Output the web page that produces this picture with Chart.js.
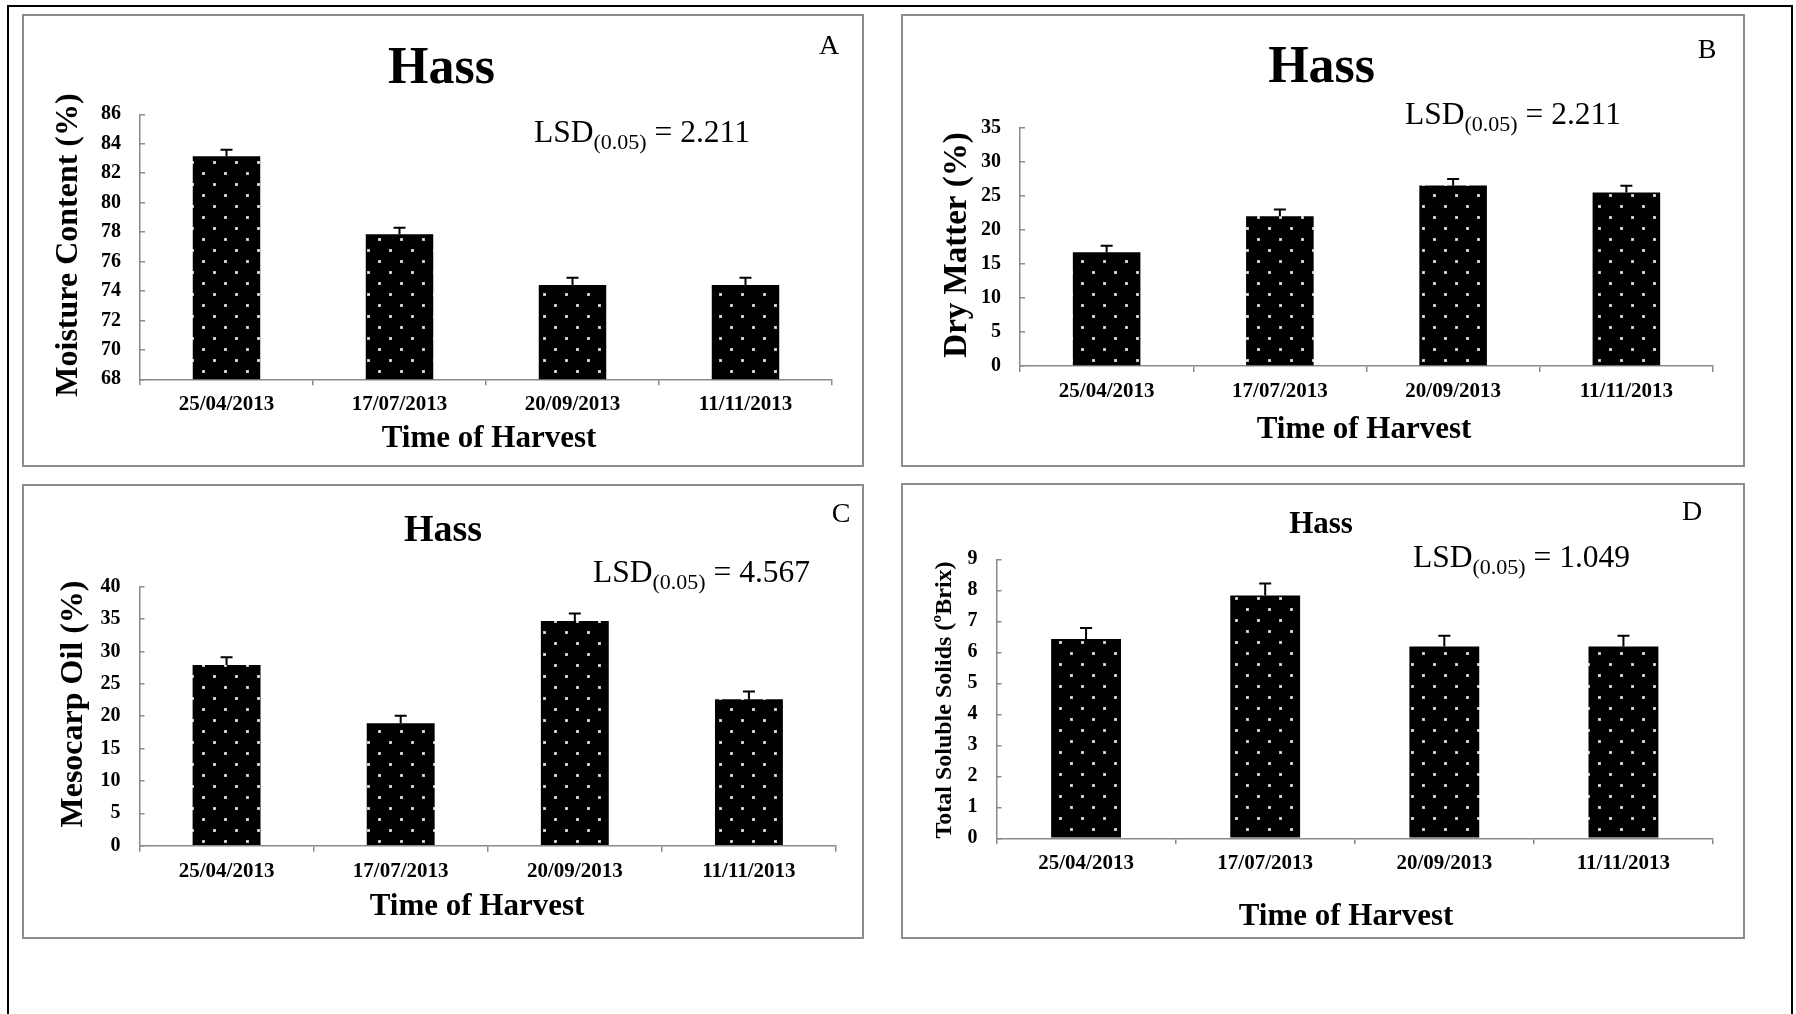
<!DOCTYPE html>
<html>
<head>
<meta charset="utf-8">
<title>Hass - time of harvest</title>
<script src="https://cdn.jsdelivr.net/npm/chart.js@4.4.1/dist/chart.umd.min.js"></script>
<style>
  html, body { margin: 0; padding: 0; background: #fff; }
  body { width: 1796px; height: 1014px; position: relative; overflow: hidden; }
  #outer { position: absolute; left: 7px; top: 5px; width: 1786px; height: 1100px; border: 2.5px solid #000; box-sizing: border-box; }
  canvas.panel { position: absolute; }
</style>
</head>
<body>
<div id="outer"></div>
<canvas id="chartA" class="panel" width="842" height="453" style="left:22px;top:14px"></canvas>
<canvas id="chartB" class="panel" width="844" height="453" style="left:901px;top:14px"></canvas>
<canvas id="chartC" class="panel" width="842" height="455" style="left:22px;top:484px"></canvas>
<canvas id="chartD" class="panel" width="844" height="456" style="left:901px;top:483px"></canvas>
<script>
var harvestDates = ['25/04/2013', '17/07/2013', '20/09/2013', '11/11/2013'];

var moistureValues = [83.15, 77.85, 74.4, 74.4];
var moistureErrors = [0.45, 0.45, 0.49, 0.49];
var moistureAxis = [68, 86, 2];

var dryMatterValues = [16.7, 22.0, 26.5, 25.5];
var dryMatterErrors = [0.97, 0.97, 0.97, 0.97];
var dryMatterAxis = [0, 35, 5];

var oilValues = [27.9, 18.9, 34.7, 22.6];
var oilErrors = [1.2, 1.18, 1.17, 1.22];
var oilAxis = [0, 40, 5];

var tssValues = [6.43, 7.83, 6.19, 6.19];
var tssErrors = [0.35, 0.39, 0.34, 0.34];
var tssAxis = [0, 9, 1];

var FONT = "'Liberation Serif', 'Times New Roman', Times, serif";
var AXIS_GREY = '#8a8a8a';

function dotPattern() {
  var c = document.createElement('canvas');
  c.width = 22; c.height = 22;
  var g = c.getContext('2d');
  g.fillStyle = '#000';
  g.fillRect(0, 0, 22, 22);
  g.fillStyle = '#bdbdbd';
  g.fillRect(4, 4, 3, 3);
  g.fillRect(15, 15, 3, 3);
  g.fillStyle = '#fff';
  g.fillRect(5, 5, 1, 1);
  g.fillRect(16, 16, 1, 1);
  return g.createPattern(c, 'repeat');
}

// error bars (upper half only, the lower half is hidden by the black bar)
var errorBarsPlugin = {
  id: 'errorBars',
  afterDatasetsDraw: function (chart) {
    var ctx = chart.ctx;
    var yScale = chart.scales.y;
    chart.data.datasets.forEach(function (ds, di) {
      if (!ds.errors) return;
      var meta = chart.getDatasetMeta(di);
      ctx.save();
      ctx.strokeStyle = '#000';
      ctx.lineWidth = 2;
      meta.data.forEach(function (bar, i) {
        var top = yScale.getPixelForValue(ds.data[i] + ds.errors[i]);
        ctx.beginPath();
        ctx.moveTo(bar.x, bar.y);
        ctx.lineTo(bar.x, top);
        ctx.moveTo(bar.x - 6, top);
        ctx.lineTo(bar.x + 6, top);
        ctx.stroke();
      });
      ctx.restore();
    });
  }
};

// frame, title, panel letter, LSD note and axis titles
var panelTextPlugin = {
  id: 'panelText',
  beforeDraw: function (chart) {
    var ctx = chart.ctx;
    ctx.save();
    ctx.strokeStyle = '#8c8c8c';
    ctx.lineWidth = 2;
    ctx.strokeRect(1, 1, chart.width - 2, chart.height - 2);
    ctx.restore();
  },
  afterDraw: function (chart, args, o) {
    var ctx = chart.ctx;
    ctx.save();
    ctx.fillStyle = '#000';
    ctx.textBaseline = 'alphabetic';

    ctx.textAlign = 'center';
    ctx.font = 'bold ' + o.titleSize + 'px ' + FONT;
    ctx.fillText('Hass', o.titleX, o.titleY);

    ctx.font = '28px ' + FONT;
    ctx.fillText(o.letter, o.letterX, o.letterY);

    ctx.textAlign = 'left';
    var x = o.lsdX;
    ctx.font = '31.5px ' + FONT;
    ctx.fillText('LSD', x, o.lsdY);
    x += ctx.measureText('LSD').width;
    ctx.font = '22px ' + FONT;
    ctx.fillText('(0.05)', x, o.lsdY + 7);
    x += ctx.measureText('(0.05)').width;
    ctx.font = '31.5px ' + FONT;
    ctx.fillText(' = ' + o.lsd, x, o.lsdY);

    ctx.textAlign = 'center';
    ctx.font = 'bold 31px ' + FONT;
    ctx.fillText('Time of Harvest', o.xTitleX, o.xTitleY);

    ctx.translate(o.yTitleX, o.yTitleY);
    ctx.rotate(-Math.PI / 2);
    ctx.textBaseline = 'middle';
    ctx.font = 'bold ' + o.yTitleSize + 'px ' + FONT;
    ctx.fillText(o.yTitle, 0, 0);
    ctx.restore();
  }
};

var dots = dotPattern();

function buildChart(id, values, errors, axis, box, text) {
  return new Chart(document.getElementById(id), {
    type: 'bar',
    data: {
      labels: harvestDates,
      datasets: [{
        data: values,
        errors: errors,
        backgroundColor: dots,
        borderWidth: 0,
        barPercentage: 0.39,
        categoryPercentage: 1
      }]
    },
    options: {
      responsive: false,
      animation: false,
      events: [],
      layout: { padding: { left: 0, top: box.top, right: box.right, bottom: 0 } },
      plugins: {
        legend: { display: false },
        tooltip: { enabled: false },
        panelText: text
      },
      scales: {
        x: {
          grid: { display: true, drawOnChartArea: false, drawTicks: true, tickLength: 6, color: AXIS_GREY, lineWidth: 1.5, offset: true },
          border: { color: AXIS_GREY, width: 1.5 },
          ticks: { color: '#000', font: { family: FONT, size: 21, weight: 'bold' }, padding: 7, maxRotation: 0, autoSkip: false },
          afterFit: function (s) { s.height = box.xHeight; }
        },
        y: {
          min: axis[0],
          max: axis[1],
          grid: { drawOnChartArea: false, drawTicks: true, tickLength: -5, color: AXIS_GREY, lineWidth: 1.5 },
          border: { color: AXIS_GREY, width: 1.5 },
          ticks: { stepSize: axis[2], color: '#000', font: { family: FONT, size: 20, weight: 'bold' }, padding: 24 },
          afterFit: function (s) { s.width = box.yWidth; }
        }
      }
    },
    plugins: [errorBarsPlugin, panelTextPlugin]
  });
}

buildChart('chartA', moistureValues, moistureErrors, moistureAxis,
  { top: 100.3, right: 32, yWidth: 118, xHeight: 87.7 },
  { titleSize: 52, titleX: 419.5, titleY: 69, letter: 'A', letterX: 807, letterY: 39.5,
    lsd: '2.211', lsdX: 512, lsdY: 128, xTitleX: 467, xTitleY: 433,
    yTitle: 'Moisture Content (%)', yTitleSize: 32, yTitleX: 47, yTitleY: 231 });

buildChart('chartB', dryMatterValues, dryMatterErrors, dryMatterAxis,
  { top: 113.7, right: 32, yWidth: 119, xHeight: 101 },
  { titleSize: 52, titleX: 420.6, titleY: 68, letter: 'B', letterX: 806, letterY: 44,
    lsd: '2.211', lsdX: 504, lsdY: 110, xTitleX: 463, xTitleY: 424,
    yTitle: 'Dry Matter (%)', yTitleSize: 33, yTitleX: 56, yTitleY: 231 });

buildChart('chartC', oilValues, oilErrors, oilAxis,
  { top: 102.7, right: 28, yWidth: 117.5, xHeight: 93.3 },
  { titleSize: 38, titleX: 421, titleY: 57, letter: 'C', letterX: 819, letterY: 38,
    lsd: '4.567', lsdX: 571, lsdY: 98, xTitleX: 455, xTitleY: 431,
    yTitle: 'Mesocarp Oil (%)', yTitleSize: 32, yTitleX: 52, yTitleY: 220 });

buildChart('chartD', tssValues, tssErrors, tssAxis,
  { top: 76.3, right: 32, yWidth: 95.5, xHeight: 100.7 },
  { titleSize: 31, titleX: 420, titleY: 50, letter: 'D', letterX: 791, letterY: 37,
    lsd: '1.049', lsdX: 512, lsdY: 84, xTitleX: 445, xTitleY: 442,
    yTitle: 'Total Soluble Solids (\u00baBrix)', yTitleSize: 24, yTitleX: 44, yTitleY: 217 });
</script>
</body>
</html>
